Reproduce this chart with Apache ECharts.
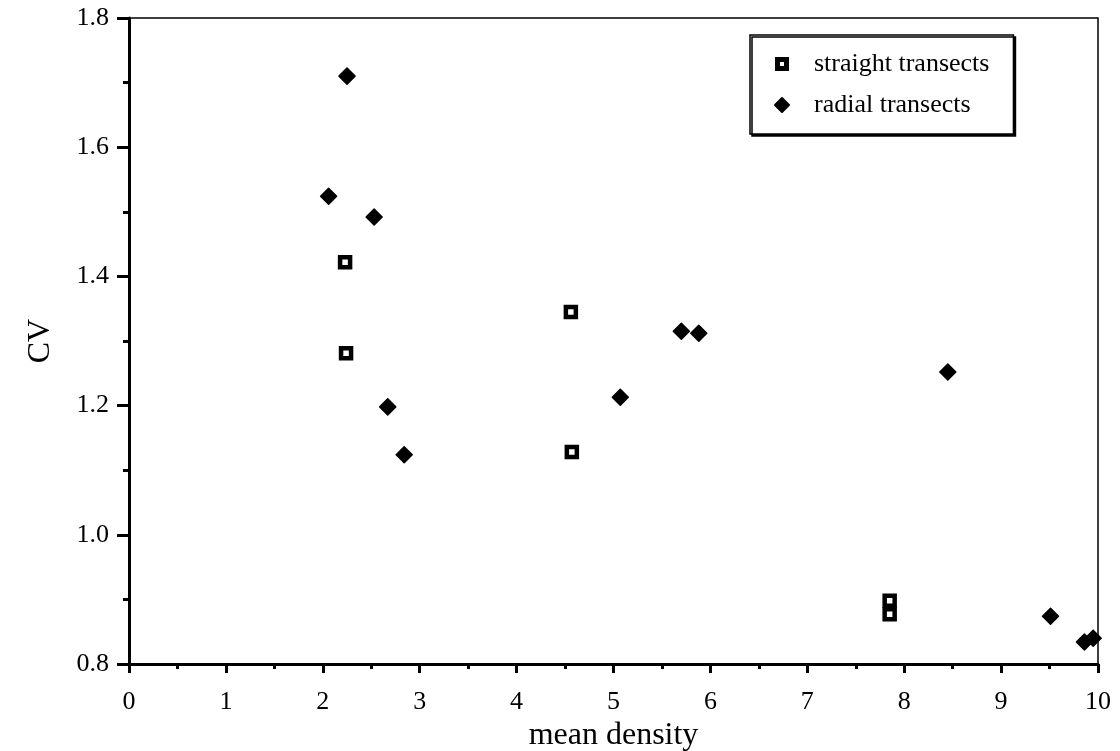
<!DOCTYPE html>
<html>
<head>
<meta charset="utf-8">
<script src="https://cdn.jsdelivr.net/npm/echarts@6/dist/echarts.min.js"></script>
<style>
  html, body { margin: 0; padding: 0; background: #fff; }
  #chart { width: 1120px; height: 751px; }
</style>
</head>
<body>
<div id="chart"></div>
<script>
// mean density / CV
const straightX = [2.23, 2.24, 4.56, 4.57, 7.85, 7.85]
const straightY = [1.422, 1.281, 1.345, 1.128, 0.898, 0.877]
const radialX = [2.25, 2.06, 2.53, 2.67, 2.84, 5.07, 5.70, 5.88, 8.45, 9.51, 9.86, 9.95]
const radialY = [1.71, 1.524, 1.492, 1.198, 1.124, 1.213, 1.315, 1.312, 1.252, 0.874, 0.834, 0.840]
const seriesNames = ["straight transects", "radial transects"]

const font = "'Liberation Serif', 'DejaVu Serif', serif"
// black square with a small white hole, as in the legend of the original
const squareIcon = "path://M0,0H14V14H0Z M5,5V9H9V5Z"

const zip = (xs, ys) => xs.map((x, i) => [x, ys[i]])

const option = {
  animation: false,
  textStyle: { fontFamily: font, color: "#000" },
  grid: {
    left: 129,
    right: 22,
    top: 18,
    bottom: 87,
    outerBoundsMode: "none",
    show: true,
    borderColor: "#000",
    borderWidth: 1.5,
  },
  legend: {
    orient: "vertical",
    left: 750,
    top: 35,
    padding: [15, 24, 15, 24],
    itemGap: 13,
    itemWidth: 14,
    itemHeight: 14,
    backgroundColor: "#fff",
    borderColor: "#000",
    borderWidth: 1.5,
    shadowColor: "#000",
    shadowOffsetX: 2,
    shadowOffsetY: 2,
    shadowBlur: 0,
    data: [
      { name: seriesNames[0], icon: squareIcon, itemStyle: { color: "#000", borderWidth: 0 } },
      { name: seriesNames[1] },
    ],
    textStyle: {
      fontFamily: font,
      fontSize: 26,
      lineHeight: 28,
      color: "#000",
      padding: [0, 0, 0, 20],
    },
  },
  xAxis: {
    type: "value",
    min: 0,
    max: 10,
    interval: 1,
    name: "mean density",
    nameLocation: "middle",
    nameGap: 40,
    nameTextStyle: { fontFamily: font, fontSize: 32, color: "#000" },
    axisLine: { onZero: false, lineStyle: { color: "#000", width: 3 } },
    axisTick: { length: 9, lineStyle: { color: "#000", width: 3 } },
    minorTick: { show: true, splitNumber: 2, length: 5, lineStyle: { color: "#000", width: 3 } },
    splitLine: { show: false },
    axisLabel: { margin: 25, fontFamily: font, fontSize: 26, color: "#000" },
  },
  yAxis: {
    type: "value",
    min: 0.8,
    max: 1.8,
    interval: 0.2,
    name: "CV",
    nameLocation: "middle",
    nameGap: 72,
    nameTextStyle: { fontFamily: font, fontSize: 32, color: "#000" },
    axisLine: { onZero: false, lineStyle: { color: "#000", width: 3 } },
    axisTick: { length: 12, lineStyle: { color: "#000", width: 3 } },
    minorTick: { show: true, splitNumber: 2, length: 6, lineStyle: { color: "#000", width: 3 } },
    splitLine: { show: false },
    axisLabel: {
      margin: 20,
      fontFamily: font,
      fontSize: 26,
      color: "#000",
      formatter: v => v.toFixed(1),
    },
  },
  series: [
    {
      name: seriesNames[0],
      type: "scatter",
      symbol: "rect",
      symbolSize: 10,
      itemStyle: { color: "#fff", borderColor: "#000", borderWidth: 4.5, opacity: 1 },
      data: zip(straightX, straightY),
    },
    {
      name: seriesNames[1],
      type: "scatter",
      symbol: "diamond",
      symbolSize: 16,
      itemStyle: { color: "#000", borderColor: "#000", borderWidth: 1.5, borderJoin: "round", opacity: 1 },
      data: zip(radialX, radialY),
    },
  ],
}

const chart = echarts.init(document.getElementById("chart"))
chart.setOption(option)
window.addEventListener("resize", () => chart.resize())
</script>
</body>
</html>
